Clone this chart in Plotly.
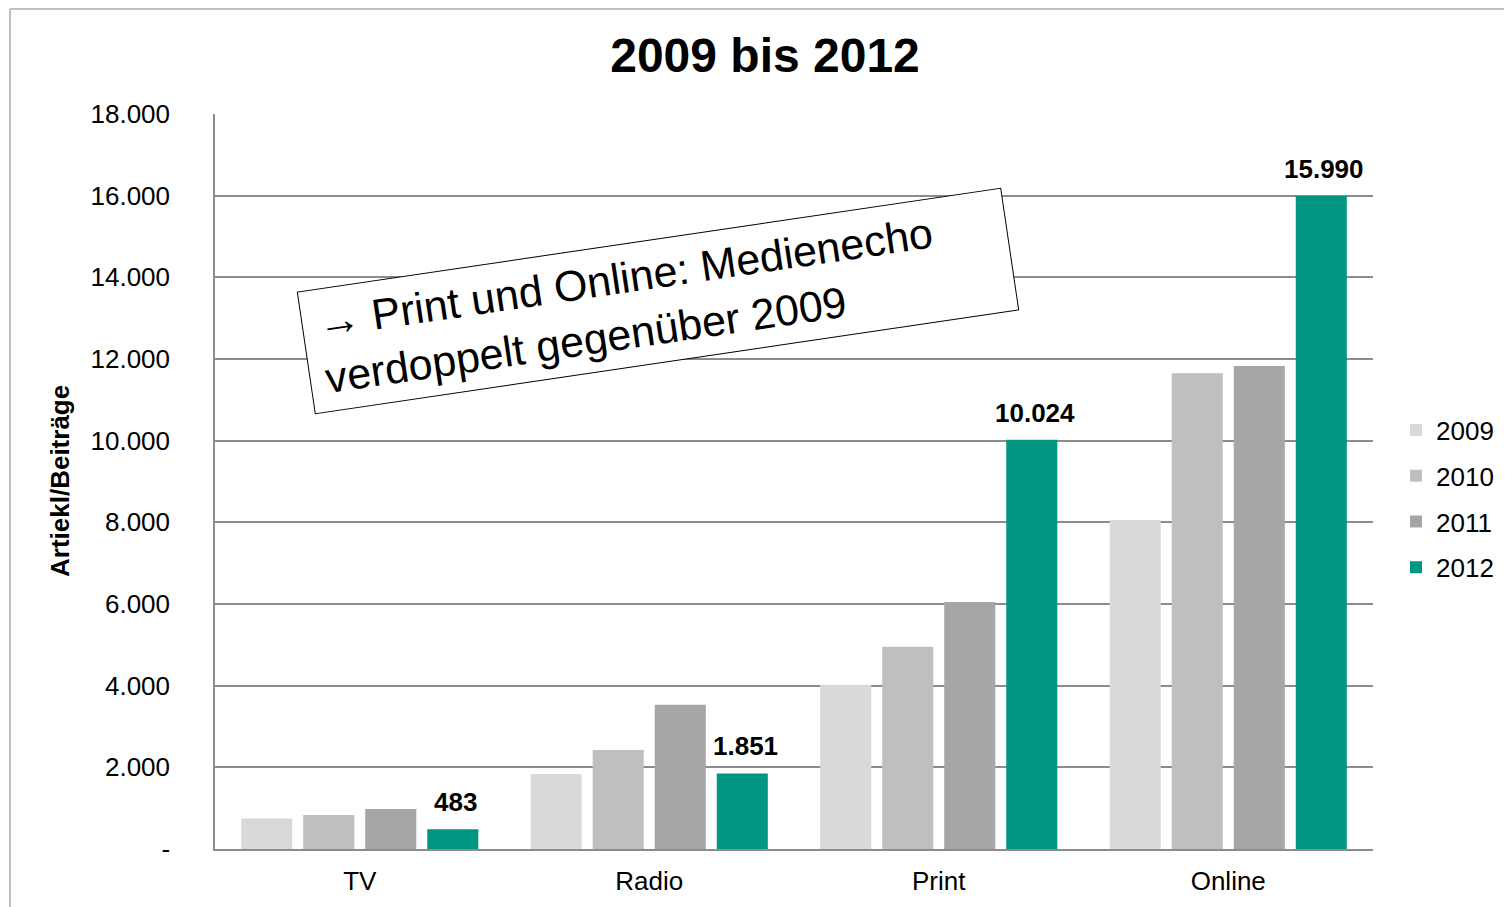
import plotly.graph_objects as go

categories = ["TV", "Radio", "Print", "Online"]
years = ["2009", "2010", "2011", "2012"]
values_2009 = [750, 1835, 4020, 8060]
values_2010 = [830, 2425, 4955, 11650]
values_2011 = [980, 3530, 6050, 11830]
values_2012 = [483, 1851, 10024, 15990]
series = [values_2009, values_2010, values_2011, values_2012]
colors = ["#d9d9d9", "#bfbfbf", "#a6a6a6", "#009681"]

y_tickvals = [0, 2000, 4000, 6000, 8000, 10000, 12000, 14000, 16000, 18000]
y_ticktext = ["-", "2.000", "4.000", "6.000", "8.000", "10.000", "12.000", "14.000", "16.000", "18.000"]

# page offset of the plot div (browser body margin)
OFF = 8
W, H = 1512 - OFF, 907 - OFF
ML, MT = 215 - OFF, 114 - OFF
MR = W - (1373 - OFF)
MB = H - (849 - OFF)
plot_w = W - ML - MR
plot_h = H - MT - MB
BARGAP = 0.143
BARGROUPGAP = 0.177

FONT = "Liberation Sans, Arial, sans-serif"
GRID = "#8c8c8c"


def px_x(px):
    return (px - OFF - ML) / plot_w


def px_y(py):
    return (H - MB - (py - OFF)) / plot_h


fig = go.Figure()
for yr, vals, col in zip(years, series, colors):
    fig.add_trace(go.Bar(
        x=categories, y=vals, name=yr, marker=dict(color=col, line=dict(width=0)),
        legendgroup=yr,
    ))

# data labels for 2012 series
slot = plot_w / len(categories) * (1 - BARGAP) / len(years)
xoff = 1.5 * slot + 3
for c, v in zip(categories, values_2012):
    fig.add_annotation(
        x=c, y=v, xref="x", yref="y", xshift=xoff, yshift=10,
        text="<b>" + f"{v:,}".replace(",", ".") + "</b>",
        showarrow=False, yanchor="bottom", xanchor="center",
        font=dict(family=FONT, size=26, color="black"),
    )

# rotated text box
fig.add_annotation(
    xref="paper", yref="paper", x=px_x(658), y=px_y(301),
    text="\u00a0→ Print und Online: Medienecho<br>\u00a0verdoppelt gegenüber 2009",
    showarrow=False, textangle=-8.4, align="left",
    xanchor="center", yanchor="middle",
    width=704, height=116, borderpad=3,
    bordercolor="black", borderwidth=1, bgcolor="white",
    font=dict(family=FONT, size=43, color="black"),
)

# y-axis title
fig.add_annotation(
    xref="paper", yref="paper", x=px_x(60), y=px_y(481),
    text="<b>Artiekl/Beiträge</b>", textangle=-90, showarrow=False,
    xanchor="center", yanchor="middle",
    font=dict(family=FONT, size=26, color="black"),
)

# outer frame lines
fig.add_shape(type="line", xref="paper", yref="paper",
              x0=px_x(10), x1=px_x(1520), y0=px_y(9), y1=px_y(9),
              line=dict(color="#c0c0c0", width=2))
fig.add_shape(type="line", xref="paper", yref="paper",
              x0=px_x(10), x1=px_x(10), y0=px_y(9), y1=px_y(920),
              line=dict(color="#c0c0c0", width=2))

fig.update_layout(
    width=W, height=H,
    margin=dict(l=ML, r=MR, t=MT, b=MB, autoexpand=False),
    paper_bgcolor="white", plot_bgcolor="white",
    barmode="group", bargap=BARGAP, bargroupgap=BARGROUPGAP,
    font=dict(family=FONT, size=26, color="black"),
    title=dict(text="<b>2009 bis 2012</b>", x=px_x(765), xref="paper", xanchor="center",
               y=1 - (55 - OFF) / H, yanchor="middle",
               font=dict(family=FONT, size=48, color="black")),
    legend=dict(x=px_x(1396), xanchor="left", y=px_y(499), yanchor="middle",
                font=dict(family=FONT, size=26), tracegroupgap=9,
                bgcolor="rgba(0,0,0,0)"),
    showlegend=True,
)
fig.update_yaxes(range=[0, 18000], tickvals=y_tickvals, ticktext=y_ticktext,
                 showgrid=True, gridcolor=GRID, gridwidth=1.5,
                 showline=True, linecolor=GRID, linewidth=1.5, automargin=False,
                 zeroline=False, ticks="", ticklabelstandoff=38,
                 tickfont=dict(family=FONT, size=26))
fig.update_xaxes(showline=True, linecolor=GRID, linewidth=2, ticks="", automargin=False,
                 ticklabelstandoff=8, tickfont=dict(family=FONT, size=26))

fig.write_html("out.html")
